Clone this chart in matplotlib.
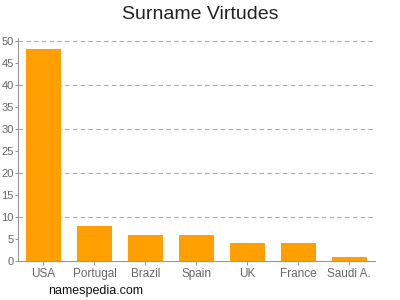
import matplotlib.pyplot as plt

plt.rcParams['font.family'] = ['Liberation Sans', 'DejaVu Sans']

countries = ['USA', 'Portugal', 'Brazil', 'Spain', 'UK', 'France', 'Saudi A.']
counts = [48, 8, 6, 6, 4, 4, 1]

fig = plt.figure(figsize=(4, 3), dpi=100)
ax = fig.add_axes([0.045, 0.13, 0.892, 0.742])

ax.bar(range(len(countries)), counts, width=0.69, color='#ffa000', zorder=3)

ax.set_xlim(-0.5, len(countries) - 0.5)
ax.set_ylim(0, 50.5)
ax.set_yticks(range(0, 51, 5))
ax.set_xticks(range(len(countries)))
ax.set_xticklabels(countries)

for y in range(10, 51, 10):
    ax.axhline(y, color='#aaaaaa', linestyle=(0, (4, 3)), linewidth=0.8, zorder=1)

for side in ['top', 'right']:
    ax.spines[side].set_visible(False)
for side in ['left', 'bottom']:
    ax.spines[side].set_color('#999999')
    ax.spines[side].set_linewidth(0.8)

ax.tick_params(axis='both', colors='#999999', labelcolor='#666666', width=0.8)
ax.tick_params(axis='y', labelsize=8, length=2, pad=1)
ax.tick_params(axis='x', labelsize=8.5, length=3, pad=2)

fig.text(0.5, 0.953, 'Surname Virtudes', ha='center', va='center', fontsize=14, color='#222222')
fig.text(0.12, 0.01, 'namespedia.com', ha='left', va='bottom', fontsize=9, color='#111111')

plt.savefig('out.png', dpi=100)
plt.close()
